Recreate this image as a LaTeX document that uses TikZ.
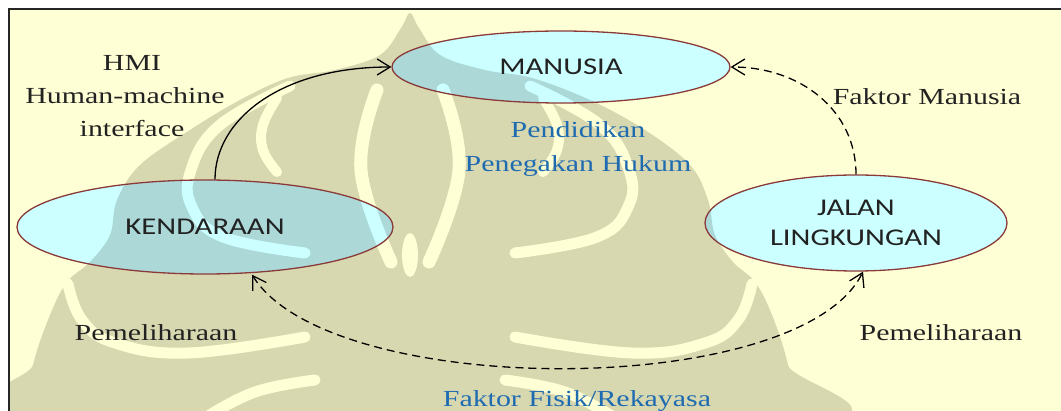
\documentclass[tikz,border=0pt]{standalone}
\usepackage{fontspec}
\setmainfont{Liberation Serif}
\newfontfamily\serf[FakeStretch=1.3]{Liberation Serif}
\newfontfamily\sanf[FakeStretch=1.28]{Carlito}
\usetikzlibrary{arrows.meta,shapes.geometric}
\definecolor{bg}{HTML}{FFFFD5}
\definecolor{ellfill}{HTML}{CCFFFF}
\definecolor{elldraw}{HTML}{8B3A3A}
\definecolor{lblue}{HTML}{1F6BB0}
\definecolor{txt}{HTML}{222222}
\definecolor{wmtan}{HTML}{D8D8B0}
\definecolor{wmteal}{HTML}{ACD8D8}
\pgfdeclarelayer{backA}
\pgfdeclarelayer{backB}
\pgfsetlayers{backA,backB,main}
% watermark: #1 = tan colour, #2 = gap colour
\newcommand{\wmark}[2]{%
  \begin{scope}[xshift=5pt]
  \fill[#1] plot[smooth cycle, tension=0.6] coordinates {
    (18,425) (28,365) (45,315) (62,282) (85,262) (105,235) (112,200) (135,165)
    (185,130) (235,100) (283,78) (330,70) (375,55) (396,28) (405,13) (414,28)
    (435,55) (480,70) (527,78) (585,100) (640,130) (685,165) (703,200) (710,235)
    (728,262) (750,282) (767,315) (783,365) (792,425)};
  \begin{scope}[draw=#2, line cap=round, line width=11pt]
    \draw plot[smooth, tension=0.7] coordinates {(285,86) (215,125) (186,170) (187,207) (218,237) (300,253)};
    \draw plot[smooth, tension=0.7] coordinates {(525,86) (595,125) (624,170) (623,207) (592,237) (510,253)};
    \draw[line width=10pt] plot[smooth, tension=0.7] coordinates {(272,98) (258,125) (258,150) (272,172)};
    \draw[line width=10pt] plot[smooth, tension=0.7] coordinates {(538,98) (552,125) (552,150) (538,172)};
    \draw[line width=13pt] plot[smooth, tension=0.7] coordinates {(372,90) (356,170) (386,262)};
    \draw[line width=13pt] plot[smooth, tension=0.7] coordinates {(438,90) (454,170) (424,262)};
    \draw plot[smooth, tension=0.7] coordinates {(63,284) (77,320) (110,343) (183,353) (300,337)};
    \draw plot[smooth, tension=0.7] coordinates {(747,284) (733,320) (700,343) (627,353) (510,337)};
    \draw plot[smooth, tension=0.7] coordinates {(200,418) (250,392) (310,380)};
    \draw plot[smooth, tension=0.7] coordinates {(610,418) (560,392) (500,380)};
  \end{scope}
  \fill[#2] (405,255) ellipse [x radius=8, y radius=22];
  \end{scope}
}
\newcommand{\ellback}[3]{% node name, x radius, y radius
  \fill[ellfill] (#1.center) ellipse [x radius=#2, y radius=#3];
  \begin{scope}
    \clip (#1.center) ellipse [x radius=#2, y radius=#3];
    \wmark{wmteal}{ellfill}
  \end{scope}}
\begin{document}
\begin{tikzpicture}[x=1pt,y=-1pt,
  entity/.style={ellipse, draw=elldraw, line width=1.3pt, inner sep=0pt,
    font=\sanf\fontsize{24}{30}\selectfont, text=txt, align=center},
  lbl/.style={font=\serf\fontsize{23}{32}\selectfont, text=txt, anchor=base, inner sep=0pt},
  blbl/.style={lbl, text=lblue},
  tipb/.tip={Straight Barb[length=13pt,width=16pt,line width=1.3pt]},
  conn/.style={line width=1.3pt, -tipb},
  dconn/.style={line width=1.3pt, dash pattern=on 8pt off 5pt},
]
\useasboundingbox (0,0) rectangle (1061,411);
\begin{pgfonlayer}{backA}
\fill[white] (0,0) rectangle (1061,411);
\begin{scope}
  \clip (9,9) rectangle (1061,411);
  \fill[bg] (9,9) rectangle (1061,411);
  \wmark{wmtan}{bg}
\end{scope}
\draw[line width=2.5pt, black!85] (9,411) -- (9,9) -- (1061,9);
\end{pgfonlayer}

\node[entity, minimum width=338pt, minimum height=72pt] (man) at (561,67) {MANUSIA};
\node[entity, minimum width=376pt, minimum height=94pt] (ken) at (205,227) {KENDARAAN};
\node[entity, minimum width=302pt, minimum height=96pt] (jal) at (856,223) {JALAN\\LINGKUNGAN};

\begin{pgfonlayer}{backB}
\ellback{man}{169}{36}
\ellback{ken}{188}{47}
\ellback{jal}{151}{48}
\end{pgfonlayer}

\node[lbl] (hmi) at (132,71) {HMI};
\node[lbl] (hm) at (125,104) {Human-machine};
\node[lbl] (intf) at (132,137) {interface};
\node[lbl] (fm) at (927,105) {Faktor Manusia};
\node[blbl] (pend) at (578,138) {Pendidikan};
\node[blbl] (peng) at (578,172) {Penegakan Hukum};
\node[lbl] (peml) at (156,341) {Pemeliharaan};
\node[lbl] (pemr) at (941,341) {Pemeliharaan};
\node[blbl] (ffr) at (577,407) {Faktor Fisik/Rekayasa};

\draw[conn] ([xshift=10pt]ken.north) .. controls (215,120) and (280,67) .. (man.west);
\draw[conn, dconn] (jal.north) .. controls (856,110) and (800,67) .. (man.east);
\draw[dconn, line width=1.3pt, tipb-tipb] ([xshift=47pt]ken.south) .. controls (330,400) and (800,400) .. ([xshift=7pt]jal.south);
\end{tikzpicture}
\end{document}
